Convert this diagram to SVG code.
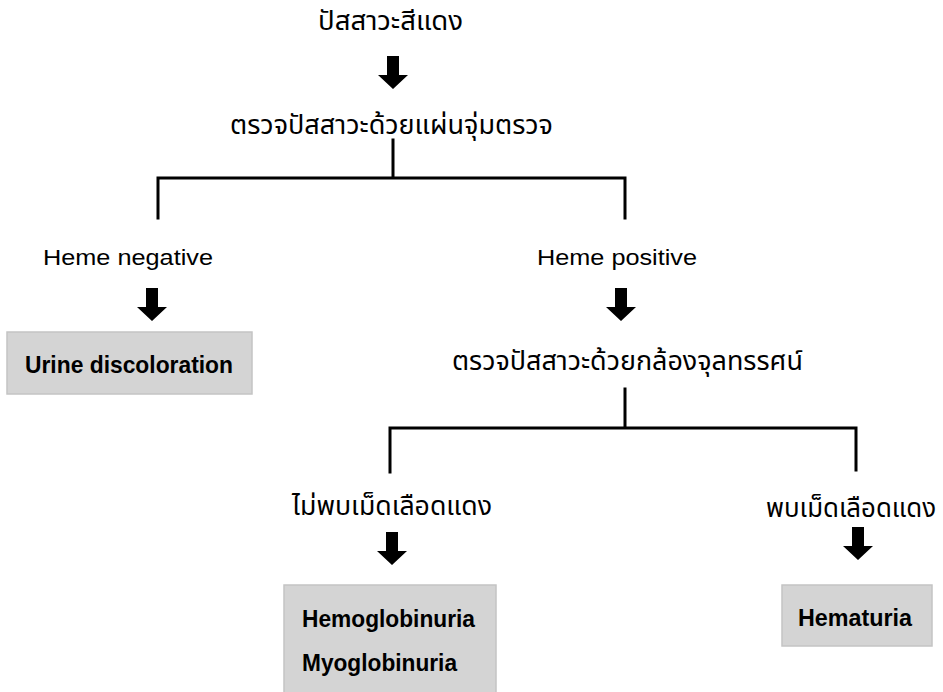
<svg xmlns="http://www.w3.org/2000/svg" width="943" height="692" viewBox="0 0 943 692">
<defs>
<style>
.th{font-family:"Noto Sans Thai","Noto Sans","DejaVu Sans","Liberation Sans",sans-serif;font-size:27px;fill:#000;}
.en{font-family:"Liberation Sans",Arial,sans-serif;font-size:22px;fill:#000;}
.bx{font-family:"Liberation Sans",Arial,sans-serif;font-size:24px;font-weight:bold;fill:#000;}
.box{fill:#d4d4d4;stroke:#c4c4c4;stroke-width:1.5;}
.ln{stroke:#000;stroke-width:3;fill:none;stroke-linecap:square;}
</style>
<path id="arr" d="M-6,0 H6 V19 H15 L0,33 L-15,19 H-6 Z" fill="#000"/>
</defs>
<rect width="943" height="692" fill="#fff"/>
<g id="connectors">
<use href="#arr" x="393" y="56"/>
<use href="#arr" x="152" y="288"/>
<use href="#arr" x="621" y="288"/>
<use href="#arr" x="392" y="532"/>
<use href="#arr" x="858" y="527"/>
<path class="ln" d="M393,140 V178 M158,178 H625 M158,178 V218 M625,178 V218"/>
<path class="ln" d="M625,389 V428 M390,428 H856 M390,428 V472 M856,428 V470"/>
</g>
<g id="n-red-urine"><text class="th" x="318" y="30" textLength="145" lengthAdjust="spacingAndGlyphs">ปัสสาวะสีแดง</text></g>
<g id="n-dipstick"><text class="th" x="230" y="134" textLength="323" lengthAdjust="spacingAndGlyphs">ตรวจปัสสาวะด้วยแผ่นจุ่มตรวจ</text></g>
<g id="n-heme-neg"><text class="en" x="43" y="265" textLength="170" lengthAdjust="spacingAndGlyphs">Heme negative</text></g>
<g id="n-heme-pos"><text class="en" x="537" y="265" textLength="160" lengthAdjust="spacingAndGlyphs">Heme positive</text></g>
<g id="n-discolor"><rect class="box" x="7" y="332" width="245" height="62"/><text class="bx" x="25" y="373" textLength="208" lengthAdjust="spacingAndGlyphs">Urine discoloration</text></g>
<g id="n-micro"><text class="th" x="452" y="370" textLength="351" lengthAdjust="spacingAndGlyphs">ตรวจปัสสาวะด้วยกล้องจุลทรรศน์</text></g>
<g id="n-no-rbc"><text class="th" x="292" y="515" textLength="200" lengthAdjust="spacingAndGlyphs">ไม่พบเม็ดเลือดแดง</text></g>
<g id="n-rbc"><text class="th" x="766" y="517" textLength="170" lengthAdjust="spacingAndGlyphs">พบเม็ดเลือดแดง</text></g>
<g id="n-hemoglobin"><rect class="box" x="284" y="585" width="212" height="115"/><text class="bx" x="302" y="627" textLength="173" lengthAdjust="spacingAndGlyphs">Hemoglobinuria</text><text class="bx" x="302" y="671" textLength="155" lengthAdjust="spacingAndGlyphs">Myoglobinuria</text></g>
<g id="n-hematuria"><rect class="box" x="782" y="585" width="150" height="61"/><text class="bx" x="798" y="626" textLength="114" lengthAdjust="spacingAndGlyphs">Hematuria</text></g>
</svg>
